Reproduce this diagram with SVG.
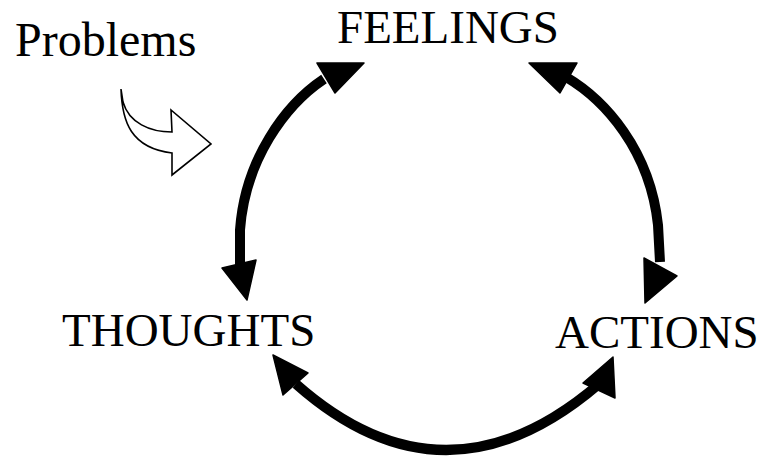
<svg xmlns="http://www.w3.org/2000/svg" width="764" height="456" viewBox="0 0 764 456">
  <style>
    .lbl { font-family: "Liberation Serif", "Times New Roman", serif; font-size: 47px; fill: #000; }
    .big { font-family: "Liberation Serif", "Times New Roman", serif; font-size: 48px; fill: #000; }
    .arc { fill: none; stroke: #000; stroke-width: 10; stroke-linecap: butt; }
    .head { fill: #000; stroke: #000; stroke-width: 1.5; stroke-linejoin: round; }
    .hollow { fill: #fff; stroke: #000; stroke-width: 1.6; stroke-linejoin: miter; }
  </style>
  <rect width="764" height="456" fill="#fff"/>
  <g id="problems">
    <text class="big" x="15" y="56">Problems</text>
    <path class="hollow" d="M121,89 C122,122 131,148 172,153 L172,175 L211,144 L171,110 L172,132 C150,132 129,123 123,102 Z"/>
  </g>
  <g id="feelings">
    <text class="lbl" x="337" y="43">FEELINGS</text>
  </g>
  <g id="thoughts">
    <text class="lbl" x="62" y="346">THOUGHTS</text>
  </g>
  <g id="actions">
    <text class="lbl" x="555" y="348">ACTIONS</text>
  </g>
  <g id="connectors">
    <path class="arc" d="M324,79 C285,105 245,160 240,230 L240,268"/>
    <polygon class="head" points="317,63 364,63 335,93"/>
    <polygon class="head" points="222,268 256,260 247,300"/>
    <path class="arc" d="M566,77 C605,100 650,150 658,225 L660,262"/>
    <polygon class="head" points="529,63 577,63 560,93"/>
    <polygon class="head" points="644,258 677,276 645,303"/>
    <path class="arc" d="M296,384 Q445,516 599,384"/>
    <polygon class="head" points="273,355 308,373 283,395"/>
    <polygon class="head" points="613,357 615,398 583,383"/>
  </g>
</svg>
